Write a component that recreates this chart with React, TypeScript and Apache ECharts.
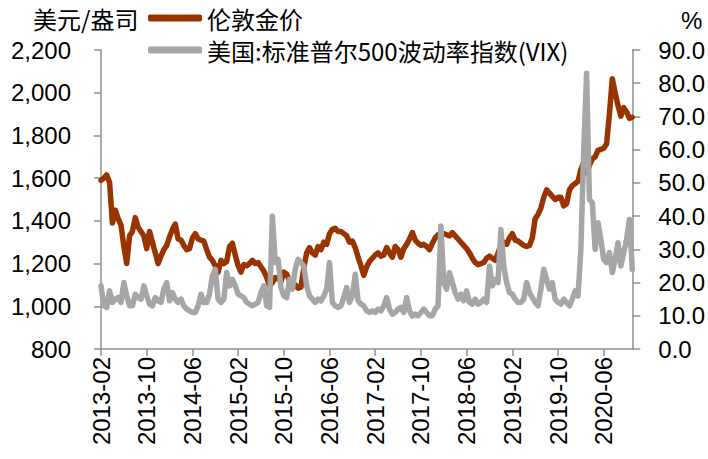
import React, { useEffect, useRef } from "react";
import * as echarts from "echarts";

// Semi-monthly sampling: 1st and 16th of every month, 2013-02 .. 2020-11 (01 only)
const firstMonth = "2013-02";
const lastMonth = "2020-11";

const goldName = "伦敦金价";
const vixName = "美国:标准普尔500波动率指数(VIX)";

// London gold price, USD/oz
const gold = [
  1590, 1600, 1615, 1580, 1390, 1450, 1410, 1380, 1280, 1200,
  1330, 1350, 1415, 1370, 1350, 1330, 1270, 1350, 1300, 1250,
  1200, 1235, 1265, 1285, 1325, 1360, 1385, 1315, 1310, 1285,
  1265, 1270, 1320, 1340, 1315, 1310, 1305, 1265, 1230, 1215,
  1190, 1160, 1215, 1200, 1210, 1280, 1295, 1240, 1190, 1160,
  1195, 1190, 1200, 1215, 1200, 1205, 1185, 1165, 1135, 1095,
  1110, 1135, 1130, 1115, 1160, 1150, 1120, 1110, 1100, 1085,
  1090, 1180, 1250, 1275, 1250, 1240, 1280, 1265, 1300, 1290,
  1340, 1360, 1365, 1350, 1350, 1340, 1330, 1300, 1305, 1275,
  1230, 1190, 1145, 1185, 1210, 1225, 1240, 1250, 1235, 1240,
  1275, 1250, 1230, 1280, 1265, 1230, 1270, 1290, 1315, 1345,
  1310, 1295, 1285, 1290, 1280, 1265, 1295, 1320, 1335, 1330,
  1340, 1335, 1330, 1345, 1330, 1315, 1300, 1285, 1270, 1250,
  1225, 1205, 1195, 1200, 1205, 1225, 1235, 1225, 1215, 1250,
  1285, 1300, 1290, 1320, 1340, 1310, 1305, 1295, 1285, 1280,
  1285, 1320, 1410, 1430, 1460, 1510, 1545, 1530, 1515, 1500,
  1510, 1510, 1470, 1480, 1545, 1565, 1575, 1585, 1640, 1675,
  1625, 1660, 1690, 1700, 1730, 1735, 1740, 1760, 1900, 2065,
  2000, 1940, 1890, 1930, 1910, 1880, 1885,
];

// VIX, %
const vix = [
  19, 13, 12.5, 17.5, 14, 15, 15.5, 14, 20, 16,
  13, 13, 16.5, 15.5, 15, 19, 16, 13.5, 13, 15.5,
  14.5, 14, 18, 20, 14.5, 17, 15, 14, 15, 13,
  12, 11.5, 11, 11, 13, 16.5, 14, 14, 16.5, 22,
  24, 15, 14, 15, 23, 19, 21, 19, 16.5, 16,
  15.5, 14, 13.5, 13, 13.5, 14, 17, 19, 13, 12.5,
  40, 26, 27, 18.5, 16, 15.5, 21, 18, 24, 27,
  26, 25, 19, 16, 15, 14, 15, 14.5, 16, 18,
  26, 14, 13, 12.5, 13, 15.5, 18.5, 14, 16, 22.5,
  14.5, 13.5, 13, 11.5, 11, 11.5, 11, 12, 11.5, 13,
  15.5, 12, 10.5, 11, 12, 12.5, 11, 15.5, 11.5, 10,
  10.5, 10, 11, 12, 11, 10, 10, 12, 13, 37,
  20, 18, 23, 20, 17, 15, 16.5, 14.5, 17.5, 14,
  13.5, 15, 13.5, 14, 15, 14, 25, 19, 21, 20,
  36, 25, 20, 17, 16.5, 15, 14, 14, 15, 20,
  17, 15.5, 14, 13, 18, 24, 21, 18, 20, 15,
  14, 13.5, 15, 14, 13, 15, 17.5, 16, 30, 60,
  83, 45, 44, 30, 38, 33, 27, 26, 29, 23,
  27, 32, 25, 29, 33, 39, 24,
];

const leftMin = 800, leftMax = 2200, leftStep = 200;
const rightMin = 0, rightMax = 90, rightStep = 10;

function buildDates(): string[] {
  const out: string[] = [];
  let [y, m] = firstMonth.split("-").map(Number);
  const [ey, em] = lastMonth.split("-").map(Number);
  while (y < ey || (y === ey && m <= em)) {
    const mm = String(m).padStart(2, "0");
    out.push(`${y}-${mm}-01`);
    if (!(y === ey && m === em)) out.push(`${y}-${mm}-16`);
    m++;
    if (m > 12) { m = 1; y++; }
  }
  return out;
}

const NUM_FONT = "Liberation Sans";
const CJK_FONT = "Noto Sans CJK SC";
const AXIS_COLOR = "#8f8f8f";

export default function App() {
  const ref = useRef<HTMLDivElement>(null);
  useEffect(() => {
    if (!ref.current) return;
    const chart = echarts.init(ref.current, undefined, { renderer: "svg" });
    const dates = buildDates();
    chart.setOption({
      animation: false,
      backgroundColor: "#ffffff",
      grid: { left: 101, right: 74, top: 50, bottom: 110, containLabel: false },
      legend: {
        orient: "vertical",
        left: 148,
        top: 6,
        padding: 0,
        itemGap: 8,
        itemWidth: 54,
        itemHeight: 7,
        icon: "roundRect",
        selectedMode: false,
        data: [goldName, vixName],
        textStyle: { fontSize: 24, lineHeight: 24, fontFamily: CJK_FONT, color: "#000" },
      },
      graphic: [
        {
          type: "text",
          left: 33,
          top: 6,
          style: { text: "美元/盎司", fontSize: 24, fontFamily: CJK_FONT, fill: "#000" },
        },
        {
          type: "text",
          left: 681,
          top: 8,
          style: { text: "%", fontSize: 24, fontFamily: NUM_FONT, fill: "#000" },
        },
      ],
      xAxis: {
        type: "category",
        data: dates,
        boundaryGap: false,
        axisLine: { lineStyle: { color: AXIS_COLOR, width: 1.5 } },
        axisTick: { interval: 15, length: 7, lineStyle: { color: AXIS_COLOR, width: 1.5 } },
        axisLabel: {
          interval: 15,
          rotate: 90,
          margin: 8,
          fontSize: 24,
          fontFamily: NUM_FONT,
          color: "#000",
          formatter: (v: string) => v.slice(0, 7),
        },
        splitLine: { show: false },
      },
      yAxis: [
        {
          type: "value",
          position: "left",
          min: leftMin,
          max: leftMax,
          interval: leftStep,
          axisLine: { show: true, lineStyle: { color: AXIS_COLOR, width: 1.5 } },
          axisTick: { show: true, length: 7, lineStyle: { color: AXIS_COLOR, width: 1.5 } },
          axisLabel: {
            margin: 30,
            fontSize: 24,
            fontFamily: NUM_FONT,
            color: "#000",
            formatter: (v: number) => v.toLocaleString("en-US"),
          },
          splitLine: { show: false },
        },
        {
          type: "value",
          position: "right",
          min: rightMin,
          max: rightMax,
          interval: rightStep,
          axisLine: { show: true, lineStyle: { color: AXIS_COLOR, width: 1.5 } },
          axisTick: { show: true, length: 8, lineStyle: { color: AXIS_COLOR, width: 1.5 } },
          axisLabel: {
            margin: 26,
            fontSize: 24,
            fontFamily: NUM_FONT,
            color: "#000",
            formatter: (v: number) => v.toFixed(1),
          },
          splitLine: { show: false },
        },
      ],
      series: [
        {
          name: goldName,
          type: "line",
          yAxisIndex: 0,
          data: gold,
          symbol: "none",
          showSymbol: false,
          color: "#993300",
          lineStyle: { width: 5.5, color: "#993300", join: "round", cap: "round" },
          emphasis: { disabled: true },
          z: 2,
        },
        {
          name: vixName,
          type: "line",
          yAxisIndex: 1,
          data: vix,
          symbol: "none",
          showSymbol: false,
          color: "#a6a6a6",
          lineStyle: { width: 5.5, color: "#a6a6a6", join: "round", cap: "round" },
          emphasis: { disabled: true },
          z: 3,
        },
      ],
    });
    return () => chart.dispose();
  }, []);
  return (
    <div
      ref={ref}
      style={{ position: "absolute", left: 0, top: 0, width: 708, height: 459 }}
    />
  );
}
